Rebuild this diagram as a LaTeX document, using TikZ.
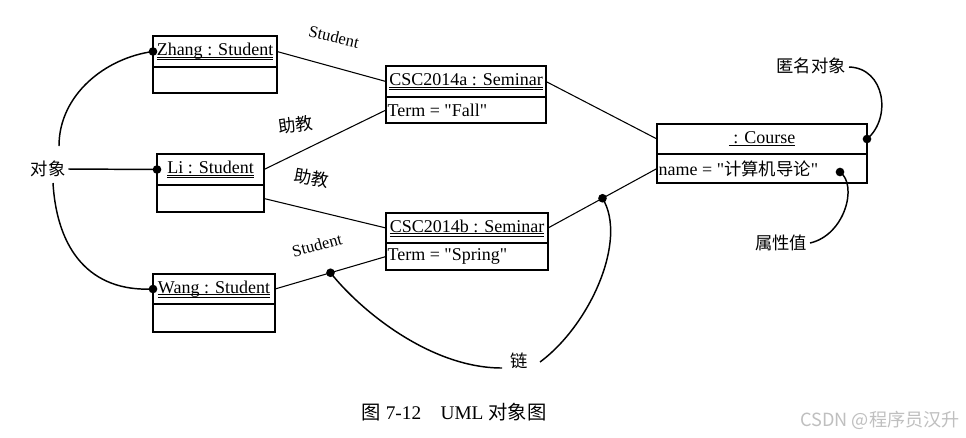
\documentclass[tikz,border=0pt]{standalone}
\usepackage{fontspec}
\setmainfont{Liberation Serif}[Ligatures=TeXOff]
\newfontfamily\cjk{Noto Sans CJK SC}
\newcommand{\dul}[1]{\leavevmode\setbox0=\hbox{#1}%
  \rlap{\vrule width\wd0 height -1.0pt depth 1.7pt}%
  \rlap{\vrule width\wd0 height -2.6pt depth 3.3pt}\box0}
\newcommand{\sul}[1]{\leavevmode\setbox0=\hbox{#1}%
  \rlap{\vrule width\wd0 height -1.0pt depth 1.9pt}\box0}
\begin{document}
\begin{tikzpicture}[x=0.75pt,y=-0.75pt,
  box/.style={draw, line width=1.5pt, inner sep=0pt, outer sep=0pt, anchor=north west,
    font=\fontsize{13.5}{15}\selectfont},
  namebox/.style={box, align=center},
  attrbox/.style={box},
  attrtext/.style={anchor=west, inner sep=0pt, font=\fontsize{13.5}{15}\selectfont},
  link/.style={line width=0.8pt},
  note/.style={line width=1.1pt},
  dot/.style={fill, circle, inner sep=0pt, minimum size=6.5pt},
  cjklabel/.style={font=\cjk\fontsize{13}{15}\selectfont, inner sep=2pt},
  assoc/.style={font=\fontsize{12.5}{14}\selectfont, inner sep=0pt}]
\useasboundingbox (0,0) rectangle (966,437);
\fill[white] (0,0) rectangle (966,437);

% objects
\node[namebox, minimum width=93pt, minimum height=23.25pt] (zhang) at (153,36) {\dul{Zhang : Student}};
\node[attrbox, minimum width=93pt, minimum height=19.5pt] (zhangA) at (zhang.south west) {};

\node[namebox, minimum width=80.25pt, minimum height=23.25pt] (li) at (157,154) {\dul{Li : Student}};
\node[attrbox, minimum width=80.25pt, minimum height=20.25pt] (liA) at (li.south west) {};

\node[namebox, minimum width=91.5pt, minimum height=22.5pt] (wang) at (153,274) {\dul{Wang : Student}};
\node[attrbox, minimum width=91.5pt, minimum height=21pt] (wangA) at (wang.south west) {};

\node[namebox, minimum width=120pt, minimum height=23.25pt] (sa) at (386,66) {\dul{CSC2014a : Seminar}};
\node[attrbox, minimum width=120pt, minimum height=19.5pt] (saA) at (sa.south west) {};
\node[attrtext] (saT) at ([xshift=1pt]saA.west) {Term = "Fall"};

\node[namebox, minimum width=121.5pt, minimum height=22.5pt] (sb) at (386,213) {\dul{CSC2014b : Seminar}};
\node[attrbox, minimum width=121.5pt, minimum height=20.25pt] (sbA) at (sb.south west) {};
\node[attrtext] (sbT) at ([xshift=1pt]sbA.west) {Term = "Spring"};

\node[namebox, minimum width=157.5pt, minimum height=22.5pt] (co) at (657,124) {\sul{\ : Course}};
\node[attrbox, minimum width=157.5pt, minimum height=21.75pt] (coA) at (co.south west) {};
\node[attrtext] (coT) at ([xshift=1pt]coA.west) {name = "{\cjk\fontsize{13}{15}\selectfont 计算机导论}"};

% links
\draw[link] (zhang.east) -- (sa.west);
\draw[link] (li.east) -- (saA.west);
\draw[link] (liA.east) -- (sb.west);
\draw[link] (wang.east) -- coordinate[pos=0.5] (m2) (sbA.west);
\draw[link] (sa.east) -- (co.west);
\draw[link] (sb.east) -- coordinate[pos=0.5] (m1) (coA.west);

% link labels
\node[assoc, rotate=-13] (l1) at (334,37) {Student};
\node[cjklabel, rotate=8] (l2) at (296,125) {助教};
\node[cjklabel, rotate=-10, inner sep=0pt] (l3) at (312,178) {助教};
\node[assoc, rotate=15] (l4) at (317,245) {Student};

% notes
\node[cjklabel] (dx) at (48,169) {对象};
\node[cjklabel] (anon) at (811,66) {匿名对象};
\node[cjklabel] (pvl) at (781,243) {属性值};
\node[cjklabel] (lian) at (519,361) {链};

% dots
\node[dot] (d1) at (zhang.west) {};
\node[dot] (d2) at (li.west) {};
\node[dot] (d3) at (wang.west) {};
\node[dot] (d4) at (co.east) {};
\node[dot] (d5) at ([shift={(-27,3.5)}]coA.east) {};
\node[dot] (d6) at (m1) {};
\node[dot] (d7) at (m2) {};

\draw[note] ([shift={(11,-23)}]dx.center) .. controls (59,95) and (105,58) .. (d1.center);
\draw[note] ([shift={(5,14)}]dx.center) .. controls (57,250) and (90,292) .. (d3.center);
\draw[note] (dx.east) -- (d2.center);
\draw[note] ([shift={(38,1)}]anon.center) .. controls (885,68) and (892,118) .. (d4.center);
\draw[note] ([shift={(29,0)}]pvl.center) .. controls (845,235) and (858,185) .. (d5.center);
\draw[note] ([shift={(-17,7)}]lian.center) .. controls (430,368) and (360,310) .. (d7.center);
\draw[note] ([shift={(21,1)}]lian.center) .. controls (590,325) and (628,240) .. (d6.center);

% caption and watermark
\node[font=\fontsize{14.5}{16}\selectfont] (cap) at (454,412) {{\cjk 图} 7-12\quad UML {\cjk 对象图}};
\node[font=\cjk\fontsize{13.6}{15}\selectfont, text=black!25] (wm) at (880,420) {CSDN @程序员汉升};
\end{tikzpicture}
\end{document}
